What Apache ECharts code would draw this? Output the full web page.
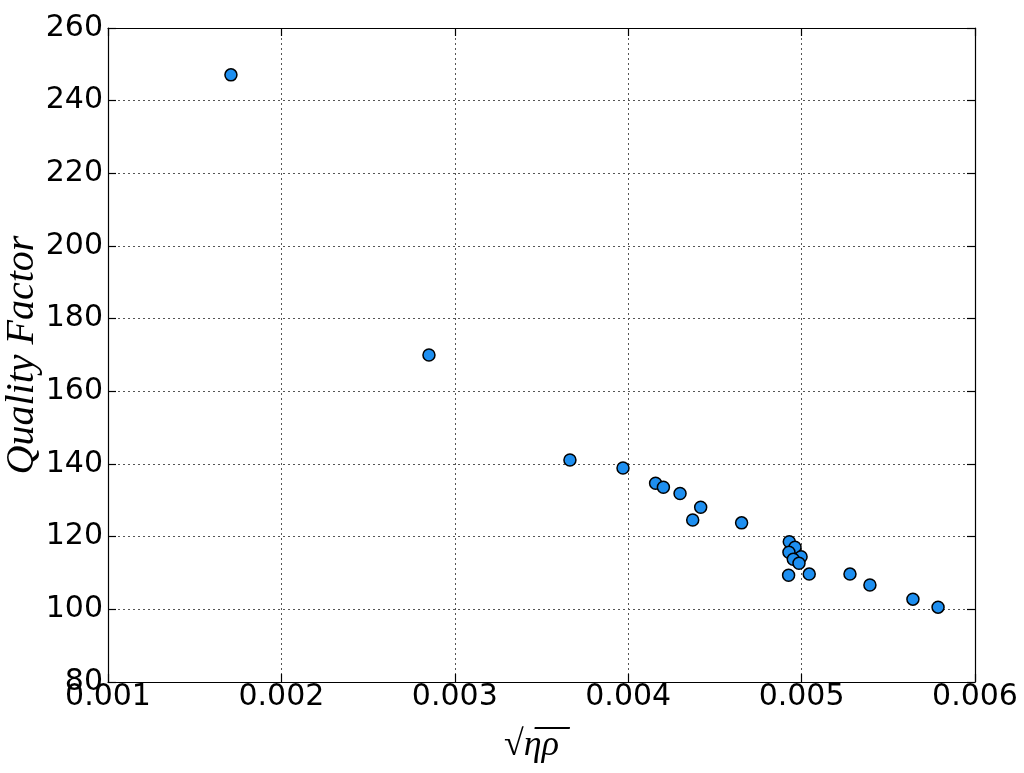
<!DOCTYPE html>
<html>
<head>
<meta charset="utf-8">
<script src="https://cdn.jsdelivr.net/npm/echarts@6/dist/echarts.min.js"></script>
<style>html,body{margin:0;padding:0;background:#fff;}#chart{width:1024px;height:773px;}</style>
</head>
<body>
<div id="chart"></div>
<script>
const sqrtEtaRho = [0.001709, 0.002851, 0.003664, 0.003970, 0.004158, 0.004203, 0.004299, 0.004418, 0.004372, 0.004654,
  0.004929, 0.004962, 0.004927, 0.004997, 0.004952, 0.004985, 0.004925, 0.005044, 0.005279, 0.005394, 0.005642, 0.005787];
const qualityFactor = [247.1, 170.0, 141.1, 138.9, 134.7, 133.6, 131.9, 128.1, 124.6, 123.8,
  118.6, 117.1, 115.7, 114.5, 113.8, 112.7, 109.4, 109.7, 109.7, 106.7, 102.8, 100.6];
const xTicks = ['0.001', '0.002', '0.003', '0.004', '0.005', '0.006'];
const yTicks = ['80', '100', '120', '140', '160', '180', '200', '220', '240', '260'];

const chart = echarts.init(document.getElementById('chart'));
const tickFont = {fontFamily: 'DejaVu Sans', fontSize: 30, color: '#000'};
const gridLine = {show: true, lineStyle: {color: '#555', type: [2, 3], width: 1}};
const axisLine = {show: true, onZero: false, lineStyle: {color: '#000', width: 1.2}};
const tick = {show: true, inside: true, length: 8, lineStyle: {color: '#000', width: 1.2}};
const xLab = v => xTicks[Math.round((v - 0.001) / 0.001)] || '';
const yLab = v => yTicks[Math.round((v - 80) / 20)] || '';
chart.setOption({
  animation: false,
  backgroundColor: '#fff',
  grid: {left: 108, right: 49, top: 28, bottom: 91, containLabel: false, outerBoundsMode: 'none'},
  xAxis: [{
    type: 'value', min: 0.001, max: 0.006, interval: 0.001,
    axisLine, axisTick: tick, splitLine: gridLine,
    axisLabel: Object.assign({margin: 0, formatter: xLab}, tickFont),
    name: '√η̅ρ̅', nameLocation: 'middle', nameGap: 46, nameMoveOverlap: false,
    nameTextStyle: {fontFamily: 'Liberation Serif', fontStyle: 'italic', fontSize: 36, color: '#000', padding: [0, 20, 0, 0]}
  }, {
    type: 'value', position: 'top', min: 0.001, max: 0.006, interval: 0.001,
    axisLine, axisTick: tick, splitLine: {show: false}, axisLabel: {show: false}
  }],
  yAxis: [{
    type: 'value', min: 80, max: 260, interval: 20,
    axisLine, axisTick: tick, splitLine: gridLine,
    axisLabel: Object.assign({margin: 5, formatter: yLab}, tickFont),
    name: 'Quality Factor', nameLocation: 'middle', nameGap: 66, nameRotate: 90, nameMoveOverlap: false,
    nameTextStyle: {fontFamily: 'Liberation Serif', fontStyle: 'italic', fontSize: 40, color: '#000'}
  }, {
    type: 'value', position: 'right', min: 80, max: 260, interval: 20,
    axisLine, axisTick: tick, splitLine: {show: false}, axisLabel: {show: false}
  }],
  series: [{
    type: 'scatter',
    data: sqrtEtaRho.map((x, i) => [x, qualityFactor[i]]),
    symbolSize: 12,
    itemStyle: {color: '#1E8FF0', borderColor: '#000', borderWidth: 1.5, opacity: 1}
  }]
});
</script>
</body>
</html>
